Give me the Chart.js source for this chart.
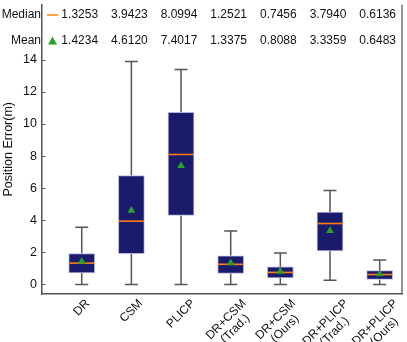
<!DOCTYPE html>
<html>
<head>
<meta charset="utf-8">
<script src="https://cdn.jsdelivr.net/npm/chart.js@4.4.1/dist/chart.umd.min.js"></script>
<style>
  html, body { margin: 0; padding: 0; background: #fff; }
  #wrap { width: 407px; height: 342px; }
</style>
</head>
<body>
<div id="wrap"><canvas id="boxChart"></canvas></div>
<script>
// categories and statistics
const methods = [['DR'], ['CSM'], ['PLICP'], ['DR+CSM', '(Trad.)'], ['DR+CSM', '(Ours)'], ['DR+PLICP', '(Trad.)'], ['DR+PLICP', '(Ours)']];
const whiskerLow = [0, 0, 0, 0, 0, 0.26, 0];
const q1 = [0.72, 1.92, 4.30, 0.69, 0.41, 2.09, 0.31];
const median = [1.3253, 3.9423, 8.0994, 1.2521, 0.7456, 3.7940, 0.6136];
const q3 = [1.92, 6.79, 10.72, 1.78, 1.09, 4.50, 0.86];
const whiskerHigh = [3.56, 13.9, 13.4, 3.33, 1.96, 5.85, 1.52];
const mean = [1.4234, 4.6120, 7.4017, 1.3375, 0.8088, 3.3359, 0.6483];
const yTicks = [0, 2, 4, 6, 8, 10, 12, 14];

const FONT = 'Liberation Sans, Arial, sans-serif';
const boxColor = '#1b1b6e';
const medianColor = '#ff7f0e';
const meanColor = '#2ca02c';
const whiskerColor = '#555555';

// whiskers behind the boxes, medians on top of them, labels, table and frame
const boxPlugin = {
    id: 'boxExtras',
    beforeDatasetsDraw(chart) {
        const ctx = chart.ctx;
        const x = chart.scales.x, y = chart.scales.y;
        ctx.save();
        ctx.strokeStyle = whiskerColor;
        ctx.lineWidth = 1.5;
        methods.forEach((m, i) => {
            const cx = x.getPixelForValue(i + 1);
            const cap = 6.5;
            ctx.beginPath();
            ctx.moveTo(cx, y.getPixelForValue(whiskerHigh[i]));
            ctx.lineTo(cx, y.getPixelForValue(q3[i]));
            ctx.moveTo(cx, y.getPixelForValue(q1[i]));
            ctx.lineTo(cx, y.getPixelForValue(whiskerLow[i]));
            ctx.moveTo(cx - cap, y.getPixelForValue(whiskerHigh[i]));
            ctx.lineTo(cx + cap, y.getPixelForValue(whiskerHigh[i]));
            ctx.moveTo(cx - cap, y.getPixelForValue(whiskerLow[i]));
            ctx.lineTo(cx + cap, y.getPixelForValue(whiskerLow[i]));
            ctx.stroke();
        });
        ctx.restore();
    },
    afterDatasetDraw(chart, args) {
        if (args.index !== 0) return;
        const ctx = chart.ctx;
        const x = chart.scales.x, y = chart.scales.y;
        ctx.save();
        ctx.strokeStyle = medianColor;
        ctx.lineWidth = 1.6;
        methods.forEach((m, i) => {
            const cx = x.getPixelForValue(i + 1);
            const py = y.getPixelForValue(median[i]);
            ctx.beginPath();
            ctx.moveTo(cx - 12.5, py);
            ctx.lineTo(cx + 12.5, py);
            ctx.stroke();
        });
        ctx.restore();
    },
    afterDraw(chart) {
        const ctx = chart.ctx;
        const x = chart.scales.x, y = chart.scales.y;
        const area = chart.chartArea;
        ctx.save();
        // right frame line
        ctx.strokeStyle = '#333';
        ctx.lineWidth = 1;
        ctx.beginPath();
        ctx.moveTo(area.right - 0.5, area.top);
        ctx.lineTo(area.right - 0.5, area.bottom);
        ctx.stroke();
        // inward y tick marks
        ctx.strokeStyle = '#555';
        ctx.lineWidth = 1;
        yTicks.forEach(t => {
            const py = Math.round(y.getPixelForValue(t)) + 0.5;
            ctx.beginPath();
            ctx.moveTo(area.left, py);
            ctx.lineTo(area.left + 3.5, py);
            ctx.stroke();
        });
        // rotated category labels, centred under each box
        ctx.font = '12px ' + FONT;
        ctx.fillStyle = '#111';
        ctx.textAlign = 'center';
        ctx.textBaseline = 'middle';
        const lineH = 13;
        methods.forEach((lines, i) => {
            const w = Math.max(...lines.map(s => ctx.measureText(s).width));
            const h = lines.length * lineH;
            const bh = (w + h) * Math.SQRT1_2;
            const cx = x.getPixelForValue(i + 1);
            const cy = area.bottom + 3 + bh / 2;
            ctx.save();
            ctx.translate(cx, cy);
            ctx.rotate(-Math.PI / 4);
            lines.forEach((s, k) => ctx.fillText(s, 0, -h / 2 + lineH * (k + 0.5)));
            ctx.restore();
        });
        // statistics table
        ctx.font = '12px ' + FONT;
        ctx.fillStyle = '#111';
        ctx.textBaseline = 'middle';
        const rowMed = 15, rowMean = 41;
        ctx.textAlign = 'right';
        ctx.fillText('Median', area.left - 1, rowMed);
        ctx.fillText('Mean', area.left - 1, rowMean);
        ctx.strokeStyle = medianColor;
        ctx.lineWidth = 1.5;
        ctx.beginPath();
        ctx.moveTo(area.left + 5, rowMed);
        ctx.lineTo(area.left + 16, rowMed);
        ctx.stroke();
        ctx.fillStyle = meanColor;
        ctx.beginPath();
        ctx.moveTo(area.left + 10.5, rowMean - 4.5);
        ctx.lineTo(area.left + 15, rowMean + 3.5);
        ctx.lineTo(area.left + 6, rowMean + 3.5);
        ctx.closePath();
        ctx.fill();
        ctx.fillStyle = '#111';
        ctx.textAlign = 'center';
        methods.forEach((m, i) => {
            const cx = x.getPixelForValue(i + 1) - 2;
            ctx.fillText(median[i].toFixed(4), cx, rowMed);
            ctx.fillText(mean[i].toFixed(4), cx, rowMean);
        });
        ctx.restore();
    }
};

const ctx = document.getElementById('boxChart').getContext('2d');
const boxChart = new Chart(ctx, {
    type: 'bar',
    data: {
        datasets: [
            {
                type: 'bar',
                label: 'IQR',
                data: methods.map((m, i) => ({ x: i + 1, y: [q1[i], q3[i]] })),
                backgroundColor: boxColor,
                borderColor: '#b4b4dc',
                borderWidth: 1,
                borderSkipped: false,
                barThickness: 26,
                order: 2
            },
            {
                type: 'scatter',
                label: 'Mean',
                data: methods.map((m, i) => ({ x: i + 1, y: mean[i] })),
                pointStyle: 'triangle',
                pointRadius: 4.5,
                backgroundColor: meanColor,
                borderColor: meanColor,
                borderWidth: 0,
                order: 1
            }
        ]
    },
    options: {
        responsive: true,
        maintainAspectRatio: false,
        animation: false,
        layout: { padding: { top: 0, right: 1, left: 0, bottom: 0 } },
        scales: {
            x: {
                type: 'linear',
                offset: false,
                min: 0.2,
                max: 7.46,
                grid: { display: false, drawTicks: false },
                border: { display: true, color: '#555', width: 1.5 },
                afterBuildTicks(scale) {
                    scale.ticks = methods.map((m, i) => ({ value: i + 1 }));
                },
                afterFit(scale) {
                    scale.height = 48;
                    scale.paddingLeft = 0;
                    scale.paddingRight = 0;
                },
                ticks: { display: false }
            },
            y: {
                min: -0.6,
                max: 17.45,
                grid: { display: false, drawTicks: false },
                border: { display: true, color: '#555', width: 1.5 },
                afterBuildTicks(scale) {
                    scale.ticks = yTicks.map(v => ({ value: v }));
                },
                afterFit(scale) {
                    scale.width = 42;
                    scale.paddingTop = 0;
                    scale.paddingBottom = 0;
                },
                title: {
                    display: true,
                    text: 'Position Error(m)',
                    color: '#111',
                    font: { family: FONT, size: 12.5 },
                    padding: { top: 1, bottom: 0 }
                },
                ticks: {
                    padding: 5,
                    color: '#111',
                    font: { family: FONT, size: 12.5 }
                }
            }
        },
        plugins: {
            legend: { display: false },
            tooltip: { enabled: false }
        }
    },
    plugins: [boxPlugin]
});
</script>
</body>
</html>
